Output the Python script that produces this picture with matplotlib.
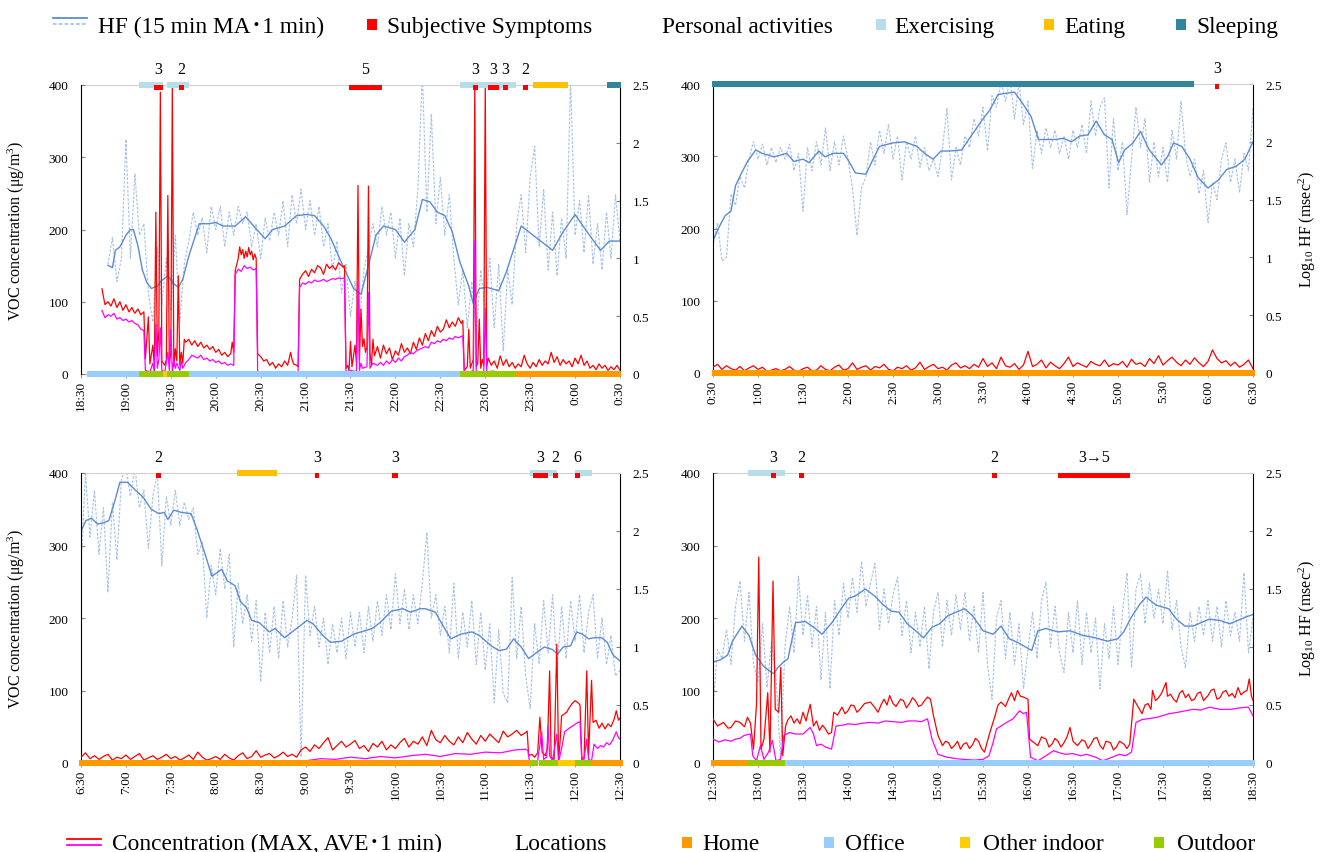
import numpy as np
import matplotlib
matplotlib.use("Agg")
import matplotlib.pyplot as plt
from matplotlib.patches import Rectangle
from matplotlib.lines import Line2D

plt.rcParams['font.family'] = ['Liberation Serif', 'Noto Sans CJK JP', 'DejaVu Sans']
plt.rcParams['mathtext.default'] = 'regular'

# ---------------- colours ----------------
COL_MA = '#5B8BD5'
COL_HF1 = '#A9C3E6'
COL_MAX = '#FF0000'
COL_AVE = '#FF00FF'
ACT_COLORS = {'Exercising': '#B7DEE8', 'Eating': '#FFC000', 'Sleeping': '#31859C'}
LOC_COLORS = {'Home': '#FF9900', 'Office': '#99CCFF', 'Other indoor': '#FFCC00', 'Outdoor': '#99CC00'}
SYM_COLOR = '#FF0000'

# ---------------- tick labels ----------------
TICKS_A = ['18:30', '19:00', '19:30', '20:00', '20:30', '21:00', '21:30', '22:00', '22:30', '23:00', '23:30', '0:00', '0:30']
TICKS_B = ['0:30', '1:00', '1:30', '2:00', '2:30', '3:00', '3:30', '4:00', '4:30', '5:00', '5:30', '6:00', '6:30']
TICKS_C = ['6:30', '7:00', '7:30', '8:00', '8:30', '9:00', '9:30', '10:00', '10:30', '11:00', '11:30', '12:00', '12:30']
TICKS_D = ['12:30', '13:00', '13:30', '14:00', '14:30', '15:00', '15:30', '16:00', '16:30', '17:00', '17:30', '18:00', '18:30']

HF_STEP = 3  # minutes between the 1-min HF samples listed below
nan = np.nan

# ================= Panel A (18:30 - 0:30) =================
A_MA = [(18,0.94),(21,0.92),(23,1.07),(26,1.10),(30,1.20),(33,1.25),(35,1.25),(38,1.11),(41,0.90),(44,0.79),(47,0.74),(51,0.76),(54,0.81),(58,0.85),(62,0.78),(65,0.75),(68,0.82),(72,1.02),(75,1.14),(79,1.30),(85,1.30),(90,1.31),(95,1.28),(103,1.28),(110,1.36),(116,1.27),(123,1.17),(128,1.25),(136,1.28),(144,1.37),(151,1.38),(156,1.37),(162,1.28),(167,1.17),(172,1.02),(177,0.88),(182,0.74),(187,0.69),(192,0.94),(197,1.20),(202,1.28),(210,1.25),(216,1.14),(223,1.25),(228,1.51),(233,1.49),(238,1.40),(243,1.37),(248,1.23),(253,0.97),(259,0.76),(262,0.61),(266,0.74),(271,0.75),(279,0.72),(284,0.88),(289,1.08),(294,1.28),(299,1.23),(307,1.15),(315,1.07),(322,1.23),(330,1.38),(338,1.23),(347,1.07),(353,1.15),(360,1.15)]
A_HF1 = [nan,nan,nan,nan,nan,nan,0.95,1.18,0.80,1.00,
         2.03,1.00,1.73,1.20,1.30,0.70,0.45,1.10,0.60,1.00,
         0.55,1.20,0.45,0.95,1.15,1.40,1.20,1.35,1.05,1.45,
         1.25,1.45,1.10,1.40,1.20,1.45,1.30,1.40,1.10,1.30,
         1.00,1.35,1.15,1.40,1.20,1.50,1.10,1.55,1.30,1.60,
         1.25,1.50,1.20,1.45,1.10,1.30,0.90,1.15,0.70,0.95,
         0.50,0.80,0.45,0.90,1.10,1.30,1.10,1.45,1.20,1.40,
         1.00,1.35,0.85,1.30,1.10,1.60,2.60,1.40,2.25,1.30,
         1.70,1.20,1.55,1.00,0.60,0.90,0.40,0.80,0.35,0.90,
         0.55,1.00,0.40,0.95,0.20,0.90,0.60,1.30,1.55,1.05,
         1.70,1.97,1.10,1.60,0.90,1.40,0.85,1.35,1.00,2.55,
         1.20,1.50,1.05,1.55,0.95,1.30,0.90,1.40,1.00,1.55,
         1.15]
A_MAX = [(14,118),(16,96),(18,100),(20,94),(22,104),(24,92),(26,100),(28,88),(30,96),(32,86),(34,92),(36,84),(38,90),(40,82),(42,86),
         (43,21),(45,79),(46,14),(48,40),(49,10),(50,224),(51,25),(52,60),(53,390),(54,18),(56,12),(57,20),(58,247),(59,15),(60,30),(61,399),
         (62,10),(63,35),(64,18),(65,136),(66,12),(67,30),(68,15),(69,48),(70,44),(72,48),(74,40),(76,46),(78,38),(80,44),(82,36),(84,40),
         (86,34),(88,38),(90,30),(92,34),(94,26),(96,30),(98,24),(100,28),(101,44),(102,30),(103,143),(105,160),(106,176),(107,165),(108,172),
         (109,160),(110,170),(111,162),(112,175),(113,165),(114,170),(115,158),(116,166),(117,160),(118,28),(120,24),(122,18),(124,20),(126,12),
         (128,16),(130,8),(132,14),(134,10),(136,18),(138,12),(140,30),(141,20),(142,14),(144,12),(145,10),(146,131),(148,138),(150,143),(152,135),
         (154,145),(156,140),(158,150),(160,147),(162,138),(164,152),(166,146),(168,150),(170,144),(172,154),(174,150),(175,148),(176,150),(177,8),
         (178,12),(179,5),(180,45),(181,10),(183,40),(184,15),(185,261),(186,20),(187,90),(188,38),(189,49),(190,30),(191,38),(192,260),(193,30),
         (194,12),(195,48),(196,25),(198,38),(200,22),(202,40),(204,28),(206,36),(208,20),(210,32),(212,26),(214,42),(216,30),(218,36),(220,28),
         (222,44),(224,34),(226,50),(228,40),(230,56),(232,46),(234,60),(236,52),(238,66),(240,58),(242,62),(244,75),(246,64),(248,72),(250,66),
         (252,78),(254,70),(255,74),(256,5),(258,10),(259,62),(260,8),(262,20),(263,400),(264,10),(265,15),(266,76),(267,8),(268,20),(269,12),
         (270,400),(271,10),(272,22),(274,12),(276,18),(278,8),(280,25),(282,12),(284,20),(286,10),(288,16),(290,8),(292,14),(294,10),(296,26),
         (298,14),(300,8),(302,16),(304,10),(306,20),(308,12),(310,18),(312,14),(314,30),(316,16),(318,24),(320,12),(322,20),(324,14),(326,18),
         (328,10),(330,22),(332,14),(334,26),(336,12),(338,18),(340,8),(342,12),(344,6),(346,14),(348,8),(350,12),(352,5),(354,10),(356,6),
         (358,12),(360,5)]
A_AVE = [(14,88),(16,78),(18,82),(20,80),(22,84),(24,76),(26,78),(28,74),(30,76),(32,72),(34,74),(36,70),(38,68),(40,62),(42,60),(43,5),
         (46,3),(48,15),(49,2),(50,69),(51,8),(52,20),(53,64),(54,5),(56,3),(58,30),(59,5),(60,62),(61,3),(62,20),(63,8),(64,15),(65,10),(66,5),
         (67,18),(68,8),(70,16),(72,20),(74,26),(76,24),(78,22),(80,26),(82,20),(84,22),(86,18),(88,20),(90,16),(92,18),(94,14),(96,16),(98,12),
         (100,14),(102,12),(103,138),(105,145),(107,142),(109,150),(111,146),(113,148),(115,144),(117,146),(118,2),(120,0),(130,0),(140,0),
         (145,0),(146,120),(148,126),(150,124),(152,128),(154,126),(156,130),(158,128),(160,129),(162,131),(164,128),(166,130),(168,132),
         (170,131),(172,133),(174,132),(176,133),(177,2),(180,5),(184,3),(185,127),(186,5),(187,15),(188,8),(191,10),(192,113),(193,8),(195,15),
         (198,12),(200,16),(202,12),(204,18),(206,14),(208,20),(210,16),(212,22),(214,18),(216,24),(218,26),(220,30),(222,28),(224,32),(226,34),
         (228,36),(230,38),(232,36),(234,44),(236,42),(238,46),(240,44),(242,48),(244,46),(246,50),(248,48),(250,52),(252,50),(255,53),(256,2),
         (260,3),(262,5),(263,184),(264,3),(269,3),(270,90),(271,3),(275,4),(280,2),(300,1),(320,2),(340,3),(360,1)]
A_ACT = [(38.7, 54.5, 'Exercising'), (57.7, 72.2, 'Exercising'), (253, 290.4, 'Exercising'), (302, 325, 'Eating'), (351, 361, 'Sleeping')]
A_SYM = [(48.8, 54.5, '3'), (65.5, 68.8, '2'), (179, 200.9, '5'), (261.6, 265.2, '3'), (271.7, 279.2, '3'), (281.9, 285, '3'), (295, 298.4, '2')]
A_LOC = [(3.8, 38.7, 'Office'), (38.7, 55, 'Outdoor'), (55, 57.7, 'Other indoor'), (57.7, 72.2, 'Outdoor'), (72.2, 253, 'Office'),
         (253, 290.4, 'Outdoor'), (290.4, 361, 'Home')]

# ================= Panel B (0:30 - 6:30) =================
B_MA = [(0.5,1.16),(4,1.26),(8,1.36),(12,1.40),(15,1.62),(19,1.73),(23,1.83),(28.5,1.93),(32.6,1.90),(40.8,1.87),(49,1.90),(54,1.83),(60,1.85),
        (64,1.82),(70.6,1.92),(74.7,1.87),(80,1.90),(87,1.90),(89.7,1.85),(95,1.73),(102,1.72),(106,1.83),(111,1.96),(119.6,1.99),(127.7,2.00),
        (136,1.96),(141,1.90),(146.7,1.85),(152,1.92),(157.6,1.92),(165.8,1.93),(171,2.03),(179,2.18),(184.8,2.28),(190,2.41),(195.6,2.42),
        (201,2.43),(206.5,2.33),(212,2.22),(217,2.02),(222.8,2.02),(228,2.02),(233.7,2.03),(239,2.00),(244.6,2.05),(250,2.06),(255.4,2.18),
        (261,2.06),(266,2.02),(270.4,1.82),(274.5,1.93),(280,1.99),(285,2.09),(290.8,1.93),(299,1.80),(303,1.87),(307,1.99),(312.5,1.96),
        (318,1.85),(323.4,1.69),(330,1.60),(337,1.67),(342.4,1.76),(349,1.79),(354.6,1.85),(360,2.00)]
B_HF1 = [1.10,1.30,0.97,1.00,1.55,1.45,1.70,1.60,1.85,2.00,
         1.85,1.98,1.80,1.95,1.82,1.95,1.85,1.98,1.75,1.90,
         1.40,1.95,1.75,2.00,1.80,2.12,1.75,2.00,1.80,2.05,
         1.85,1.60,1.19,1.60,1.70,2.00,1.80,2.10,1.90,2.15,
         1.85,2.05,1.67,2.00,1.85,2.05,1.78,1.95,1.75,1.85,
         1.70,1.95,2.29,1.67,1.95,1.80,2.05,1.95,2.20,2.05,
         2.30,1.92,2.40,2.30,2.52,2.35,2.55,2.20,2.52,2.15,
         2.35,1.77,2.10,1.90,2.12,1.95,2.10,1.90,2.05,1.85,
         2.10,1.95,2.15,1.90,2.35,2.05,2.30,2.38,1.60,2.20,
         1.75,2.00,1.37,1.85,2.30,1.95,2.20,1.65,2.00,1.70,
         1.95,1.65,2.10,1.85,2.35,1.90,1.70,1.85,1.55,1.75,
         1.30,1.65,1.50,1.85,1.99,1.65,1.85,1.56,1.90,1.75,
         2.30]
B_MAX_GRID = [8,12,5,10,6,4,9,3,7,10,
              5,8,2,4,6,3,5,9,4,2,
              6,8,3,4,10,5,3,8,11,4,
              6,14,5,8,10,4,9,7,12,5,
              3,8,6,10,4,7,15,5,9,12,
              6,8,4,11,14,7,10,6,12,8,
              20,9,14,6,22,10,8,13,5,11,
              30,9,12,18,7,15,10,6,13,22,
              9,14,11,8,16,12,10,18,9,13,
              11,16,8,19,12,14,9,20,13,24,
              11,17,22,15,10,18,12,21,14,9,
              16,32,20,14,17,10,15,8,12,18,
              6]
B_AVE = [(0,1),(60,1),(120,1),(180,2),(240,2),(300,3),(360,2)]
B_ACT = [(-0.8, 320.7, 'Sleeping')]
B_SYM = [(334.8, 337.5, '3')]
B_LOC = [(-0.8, 361.4, 'Home')]

# ================= Panel C (6:30 - 12:30) =================
C_MA = [(0,2.00),(3.3,2.09),(7,2.11),(11,2.06),(14.8,2.07),(18.6,2.09),(22.4,2.25),(26,2.42),(31,2.42),(36.5,2.35),(41.6,2.29),(46.7,2.19),
        (51.8,2.15),(55.6,2.16),(58,2.10),(62,2.18),(67,2.16),(73.5,2.15),(77.3,2.02),(82.4,1.82),(87.5,1.61),(94,1.67),(97.7,1.57),(102.8,1.53),
        (106.6,1.39),(110.5,1.34),(114,1.23),(119,1.21),(125.8,1.13),(129.6,1.16),(136,1.08),(141,1.13),(146,1.18),(151,1.23),(155,1.20),
        (161.5,1.10),(166.6,1.04),(174,1.05),(182,1.11),(189.5,1.14),(194.6,1.16),(199.7,1.21),(207.4,1.31),(215,1.33),(220,1.30),(226.5,1.33),
        (230,1.33),(236.7,1.30),(240.6,1.21),(247,1.07),(253.3,1.11),(261,1.13),(266,1.10),(274,1.01),(279,0.97),(284,0.98),(289,1.07),
        (294,1.00),(299,0.90),(304,0.95),(309.5,1.00),(314.6,0.98),(318.4,0.94),(322,1.00),(327,1.01),(331,1.13),(335,1.11),(339,1.07),
        (342.6,1.08),(347.7,1.08),(351.5,1.04),(355.4,0.93),(360,0.88)]
C_HF1 = [1.70,2.49,1.95,2.35,1.80,2.20,1.47,2.25,1.75,2.45,
         2.55,2.30,2.55,2.20,2.35,1.85,2.30,2.50,1.70,2.30,
         2.05,2.35,2.05,2.25,2.10,2.20,1.80,1.90,1.25,1.70,
         1.45,1.85,1.50,1.80,1.00,1.55,1.20,1.45,1.05,1.40,
         0.70,1.30,0.95,1.35,0.90,1.40,1.00,1.25,1.62,0.05,
         1.62,1.10,1.35,1.00,1.25,0.85,1.20,0.95,1.25,0.90,
         1.30,1.00,1.30,0.95,1.35,1.05,1.40,1.10,1.45,1.15,
         1.63,1.20,1.50,1.15,1.45,1.20,1.55,1.99,1.25,1.45,
         1.10,1.35,0.95,1.55,0.90,1.30,1.00,1.40,0.85,1.30,
         0.80,1.20,0.52,1.15,0.60,0.52,1.60,0.90,1.35,0.75,
         0.47,1.20,0.85,1.40,0.95,1.45,0.80,1.35,0.90,1.40,
         1.05,1.45,0.95,1.30,1.45,0.90,1.25,0.85,1.10,0.75,
         0.80]
C_MAX_GRID = [8,14,6,10,5,9,12,4,8,6,11,5,9,13,4,7,10,5,8,12,6,9,4,7,11,5,15,8,4,6,
              9,5,12,7,4,10,14,6,9,17,8,11,13,7,10,15,9,12,8,18,
              22,16,25,20,28,35,18,24,30,22,26,31,20,24,16,27,22,30,18,25,20,28,34,22,30,
              26,36,24,45,32,28,38,30,25,36,28,42,33,26,38,30,40,34,28,44,36,40,45,38,42]
C_MAX_TAIL = [(298,44),(299,10),(301,12),(303,8),(305,14),(306.5,63),(308,15),(310,10),(311.5,20),(313,127),(314,8),(316,5),(317.8,164),
              (319,5),(320,30),(321,65),(323,68),(324.4,70),(326,76),(328,82),(330,86),(331.5,84),(333.3,80),(334.5,5),(336,8),(337.8,127),
              (339,10),(341,114),(342,56),(344,59),(346,48),(348,55),(350,47),(352,54),(354,50),(356,60),(357.5,72),(359,59),(360,62)]
C_AVE = [(0,2),(60,2),(120,2),(150,3),(160,6),(170,5),(180,8),(190,6),(200,9),(210,7),(220,10),(230,12),(240,9),(250,13),(260,12),(270,15),
         (280,14),(290,18),(297,19),(298.5,17),(299.5,2),(305,3),(306.5,25),(307.7,43),(309,5),(311,8),(312,51),(313,10),(315,3),(317.8,40),
         (319,2),(321,20),(323,43),(326,48),(329,52),(331,55),(333.3,57),(334.5,3),(336,5),(337.8,33),(339,5),(341,3),(342.7,26),(345,20),
         (347,24),(349,22),(351,28),(353,25),(355,31),(357.5,43),(359,35),(360,33)]
C_ACT = [(104.3, 131, 'Eating'), (300, 318, 'Exercising'), (330, 341, 'Exercising')]
C_SYM = [(50, 53.6, '2'), (156, 159, '3'), (208, 211.5, '3'), (302, 312, '3'), (315.5, 318.4, '2'), (330, 333.3, '6')]
C_LOC = [(-1.3, 300, 'Home'), (300, 305, 'Outdoor'), (305.8, 318.4, 'Outdoor'), (318.4, 330, 'Other indoor'), (330, 341, 'Outdoor'),
         (341, 362, 'Home')]

# ================= Panel D (12:30 - 18:30) =================
D_MA = [(0,0.87),(5,0.89),(9.7,0.93),(13,1.05),(19.3,1.18),(24,1.10),(28.4,0.93),(34,0.83),(37,0.80),(40.6,0.77),(43,0.82),(47,0.87),
        (50,0.90),(55,1.21),(61.6,1.22),(68.2,1.16),(72.7,1.11),(79.3,1.21),(86,1.34),(90.4,1.42),(95,1.44),(101.5,1.50),(107.8,1.44),
        (113,1.37),(118.6,1.31),(124,1.30),(129.5,1.20),(135,1.14),(140.4,1.08),(146,1.17),(151,1.20),(156.7,1.27),(162,1.30),(167.6,1.33),
        (173,1.27),(180,1.14),(186.7,1.11),(192,1.18),(197.6,1.07),(203,1.04),(208.4,1.00),(212.5,0.97),(216.6,1.14),(222,1.16),(230,1.13),
        (238,1.14),(246.5,1.10),(254.7,1.08),(262.9,1.05),(269.7,1.07),(273.8,1.13),(279,1.26),(284.6,1.37),(288.7,1.43),(295.5,1.36),
        (303.7,1.33),(309,1.24),(314.6,1.18),(320,1.18),(325.4,1.21),(330.9,1.24),(337.7,1.23),(344.5,1.20),(350,1.23),(355.4,1.26),(360,1.28)]
D_HF1 = [0.47,0.98,0.90,1.15,0.85,1.35,1.57,1.05,1.47,0.85,
         0.70,1.20,0.65,1.05,0.75,0.05,1.00,1.35,0.95,1.61,
         1.10,1.45,1.00,1.35,0.72,1.30,0.64,1.40,1.10,1.55,
         1.25,1.60,1.30,1.74,1.35,1.55,1.72,1.15,1.50,1.20,
         1.45,1.60,1.10,1.40,0.95,1.30,1.00,1.35,0.81,1.30,
         1.47,1.00,1.40,1.10,1.45,1.15,1.47,1.05,1.35,0.95,
         1.47,0.85,0.55,1.25,1.40,0.90,1.30,0.85,1.20,0.64,
         0.98,1.30,0.90,1.40,1.56,1.00,1.35,0.95,0.78,1.30,
         0.95,1.40,0.85,1.30,0.95,1.25,0.64,1.20,0.90,1.35,
         0.85,1.30,1.64,0.82,1.50,1.63,1.20,1.55,1.25,1.50,
         1.20,1.66,1.15,1.40,1.00,0.82,1.30,1.05,1.35,1.10,
         1.40,1.05,1.35,1.00,1.40,1.10,1.30,1.05,1.64,0.95,
         1.25]
D_MAX = [(0,61),(3,51),(7,56),(10,48),(12,49),(15,58),(18,56),(21,50),(23,63),(25,55),(27,19),(29,81),(30.5,284),(32,19),(34,33),(36.5,97),
         (38,15),(40,251),(41.5,74),(43.8,70),(45.2,132),(46.5,10),(48.4,51),(50,60),(52,65),(54,55),(56,61),(58,54),(60,70),(62,58),(64.8,81),
         (67,51),(69,58),(71,45),(73,52),(75,47),(77,40),(79,42),(80.5,70),(83,66),(86,77),(88,68),(90,72),(92,80),(94,79),(96,70),(98,74),
         (101,82),(105,84),(108,76),(110,70),(112,80),(114,88),(116,80),(117.8,93),(120,82),(122,78),(125,88),(127,86),(129,76),(131,82),
         (133,90),(135,86),(137,78),(139,80),(141,86),(143,91),(145,88),(147,65),(150,38),(153,24),(155,30),(157,28),(159,20),(161,24),
         (163,30),(165,19),(167,26),(169,28),(171,20),(173,25),(175,34),(177,30),(179,20),(181,15),(184,38),(188,65),(190,80),(192,84),
         (195,78),(197,88),(199,97),(201,86),(203,100),(205,92),(207,91),(210,88),(211,33),(214,28),(216.6,24),(219,36),(222,33),(224,22),
         (226,26),(228,34),(230,30),(232,22),(234,28),(236,36),(238,49),(240,30),(243,24),(246,32),(248,30),(250,20),(252,26),(254,34),
         (256,35),(258,24),(260,19),(262,30),(265,28),(267,18),(269,22),(271,30),(274,26),(276,20),(277.8,26),(280.5,88),(283,79),(286,68),
         (288,80),(290,82),(292,74),(293,100),(295,86),(297,90),(299,96),(302,111),(303,92),(305,95),(307,88),(309,84),(311,96),(313,100),
         (315,90),(317,95),(319,86),(321,88),(323,96),(325,98),(327,86),(330,93),(332,100),(334,102),(336,88),(338,90),(340,98),(342,100),
         (344,92),(346,96),(348,90),(350,104),(352,94),(354,98),(356,100),(357.5,116),(359,92),(360,86)]
D_AVE = [(0,33),(4,29),(8,32),(12,30),(15,33),(18,34),(20.7,38),(25,40),(26.5,10),(29,3),(31.6,24),(34,5),(37,15),(39.6,31),(42,3),(45,5),
         (47.3,38),(51,42),(55,40),(60,40),(64.8,49),(67,40),(69,24),(72,26),(75,22),(79,19),(82,51),(86,52),(90,54),(95,53),(100,55),
         (105,56),(110,55),(115,58),(120,57),(126,56),(130,58),(135,58),(139,57),(143,61),(146,33),(150,12),(156,8),(162,6),(167,5),(174,4),
         (180,5),(184,10),(186.7,28),(189,47),(195,55),(200,61),(204.4,72),(207,68),(209,70),(211.7,8),(216.6,3),(222,10),(227,17),(231,14),
         (235,12),(240,13),(245,10),(249,12),(255,8),(260,3),(266,8),(271,12),(275,10),(279,15),(282,56),(286,60),(290,61),(296,63),(304,68),
         (310,70),(315,72),(320,74),(325,73),(331,77),(338,74),(345,74),(351,76),(357,77),(360,65)]
D_ACT = [(23.5, 48, 'Exercising')]
D_SYM = [(38.7, 42, '3'), (57.3, 60.7, '2'), (185.9, 189, '2'), (230, 277.8, '3→5')]
D_LOC = [(-1.6, 23.5, 'Home'), (23.5, 48, 'Outdoor'), (48, 361.6, 'Office')]

# ---------------- figure ----------------
W, H = 1321, 853
fig = plt.figure(figsize=(W / 100, H / 100), dpi=100)


def fx(x):
    return x / W


def fy(y):
    return 1 - y / H


def unzip(pairs):
    t, v = zip(*pairs)
    return np.array(t, float), np.array(v, float)


def panel(box, ticks, ma, hf1, vmax, vave, acts, syms, locs, left_label, right_label):
    x0, y0, x1, y1 = box
    ax = fig.add_axes([fx(x0), fy(y1), (x1 - x0) / W, (y1 - y0) / H])
    axv = ax.twinx()

    # --- HF axis (right) ---
    ax.set_xlim(0, 360)
    ax.set_ylim(0, 2.5)
    ax.yaxis.tick_right()
    ax.set_yticks([0, 0.5, 1, 1.5, 2, 2.5])
    ax.set_yticklabels(['0', '0.5', '1', '1.5', '2', '2.5'])
    ax.tick_params(axis='y', direction='in', length=3, pad=9, labelsize=9.5, color='#808080')
    ax.set_xticks(np.arange(0, 361, 30))
    ax.set_xticklabels(ticks, rotation=90, fontsize=9.5)
    ax.tick_params(axis='x', direction='out', length=3, pad=1.5, color='#A0A0A0')
    ax.spines['left'].set_visible(False)
    ax.spines['right'].set_color('black')
    ax.spines['top'].set_color('#D0D0D0')
    ax.spines['bottom'].set_color('#C0C0C0')
    if right_label:
        ax.yaxis.set_label_position('right')
        ax.set_ylabel(right_label, fontsize=11.5, rotation=90)
        ax.yaxis.set_label_coords(1.081, 0.5)

    t_ma, v_ma = unzip(ma)
    t_hf = np.arange(len(hf1)) * HF_STEP
    ax.plot(t_hf, hf1, color=COL_HF1, lw=0.85, ls=(0, (2.2, 1.3)))
    ax.plot(t_ma, v_ma, color=COL_MA, lw=1.0)

    # --- VOC axis (left) ---
    axv.set_ylim(0, 400)
    axv.set_xlim(0, 360)
    axv.yaxis.tick_left()
    axv.yaxis.set_label_position('left')
    axv.set_yticks([0, 100, 200, 300, 400])
    axv.tick_params(axis='y', direction='in', length=3, pad=9, labelsize=9.5, color='#808080')
    for s in ['top', 'right', 'bottom']:
        axv.spines[s].set_visible(False)
    axv.spines['left'].set_color('black')
    if left_label:
        axv.set_ylabel(left_label, fontsize=11.5)
        axv.yaxis.set_label_coords(-0.100, 0.5)

    t_mx, v_mx = vmax
    t_av, v_av = vave
    axv.plot(t_mx, v_mx, color=COL_MAX, lw=0.9, zorder=3)
    axv.plot(t_av, v_av, color=COL_AVE, lw=0.9, zorder=3.1)

    for s, e, k in acts:
        axv.add_patch(Rectangle((s, 396.5), e - s, 7, fc=ACT_COLORS[k], ec='none', clip_on=False, zorder=4))
    for s, e, lab in syms:
        axv.add_patch(Rectangle((s, 393), e - s, 6.5, fc=SYM_COLOR, ec='none', clip_on=False, zorder=5))
        axv.text((s + e) / 2, 417, lab, ha='center', va='baseline', fontsize=11.5)
    for s, e, k in locs:
        axv.add_patch(Rectangle((s, -4), e - s, 8, fc=LOC_COLORS[k], ec='none', clip_on=False, zorder=6))
    return ax, axv


VOC_LABEL = 'VOC concentration (μg/m$^{3}$)'
HF_LABEL = 'Log$_{10}$ HF (msec$^{2}$)'

panel((81, 86, 620, 375), TICKS_A, A_MA, A_HF1, unzip(A_MAX), unzip(A_AVE), A_ACT, A_SYM, A_LOC, VOC_LABEL, None)
B_MAX = (np.arange(len(B_MAX_GRID)) * HF_STEP, np.array(B_MAX_GRID, float))
panel((713, 85, 1253, 374), TICKS_B, B_MA, B_HF1, B_MAX, unzip(B_AVE), B_ACT, B_SYM, B_LOC, None, HF_LABEL)
tc_tail, vc_tail = unzip(C_MAX_TAIL)
C_MAX = (np.concatenate([np.arange(len(C_MAX_GRID)) * HF_STEP, tc_tail]),
         np.concatenate([np.array(C_MAX_GRID, float), vc_tail]))
panel((81, 474, 620, 764), TICKS_C, C_MA, C_HF1, C_MAX, unzip(C_AVE), C_ACT, C_SYM, C_LOC, VOC_LABEL, None)
panel((713, 474, 1253, 764), TICKS_D, D_MA, D_HF1, unzip(D_MAX), unzip(D_AVE), D_ACT, D_SYM, D_LOC, None, HF_LABEL)

# ---------------- legends ----------------
LEG_FS = 16.8


def square(x, y_top, color, w=10, h=10.5):
    fig.add_artist(Rectangle((fx(x), fy(y_top + h)), w / W, h / H, transform=fig.transFigure,
                             fc=color, ec='none'))


# top legend
fig.add_artist(Line2D([fx(53), fx(87)], [fy(19), fy(19)], transform=fig.transFigure, color=COL_MA, lw=1.3))
fig.add_artist(Line2D([fx(53), fx(87)], [fy(24.5), fy(24.5)], transform=fig.transFigure, color=COL_HF1, lw=1.3,
                      ls=(0, (2, 1.2))))
fig.text(fx(97.6), fy(33), 'HF (15 min MA･1 min)', fontsize=LEG_FS, va='baseline')
square(367.4, 20, SYM_COLOR)
fig.text(fx(387), fy(33), 'Subjective Symptoms', fontsize=LEG_FS, va='baseline')
fig.text(fx(662), fy(33), 'Personal activities', fontsize=LEG_FS, va='baseline')
square(875.5, 20, ACT_COLORS['Exercising'])
fig.text(fx(894.8), fy(33), 'Exercising', fontsize=LEG_FS, va='baseline')
square(1043.8, 20, ACT_COLORS['Eating'])
fig.text(fx(1064), fy(33), 'Eating', fontsize=LEG_FS, va='baseline')
square(1176.4, 20, ACT_COLORS['Sleeping'])
fig.text(fx(1196.6), fy(33), 'Sleeping', fontsize=LEG_FS, va='baseline')

# bottom legend
fig.add_artist(Line2D([fx(67.4), fx(101)], [fy(840), fy(840)], transform=fig.transFigure, color=COL_MAX, lw=1.3))
fig.add_artist(Line2D([fx(67.4), fx(101)], [fy(846), fy(846)], transform=fig.transFigure, color=COL_AVE, lw=1.3))
fig.text(fx(112), fy(850), 'Concentration (MAX, AVE･1 min)', fontsize=LEG_FS, va='baseline')
fig.text(fx(514), fy(850), 'Locations', fontsize=LEG_FS, va='baseline')
square(682, 838, LOC_COLORS['Home'])
fig.text(fx(702), fy(850), 'Home', fontsize=LEG_FS, va='baseline')
square(824, 838, LOC_COLORS['Office'])
fig.text(fx(845), fy(850), 'Office', fontsize=LEG_FS, va='baseline')
square(960, 838, LOC_COLORS['Other indoor'])
fig.text(fx(983), fy(850), 'Other indoor', fontsize=LEG_FS, va='baseline')
square(1154, 838, LOC_COLORS['Outdoor'])
fig.text(fx(1177), fy(850), 'Outdoor', fontsize=LEG_FS, va='baseline')

fig.savefig('out.png', dpi=100)
